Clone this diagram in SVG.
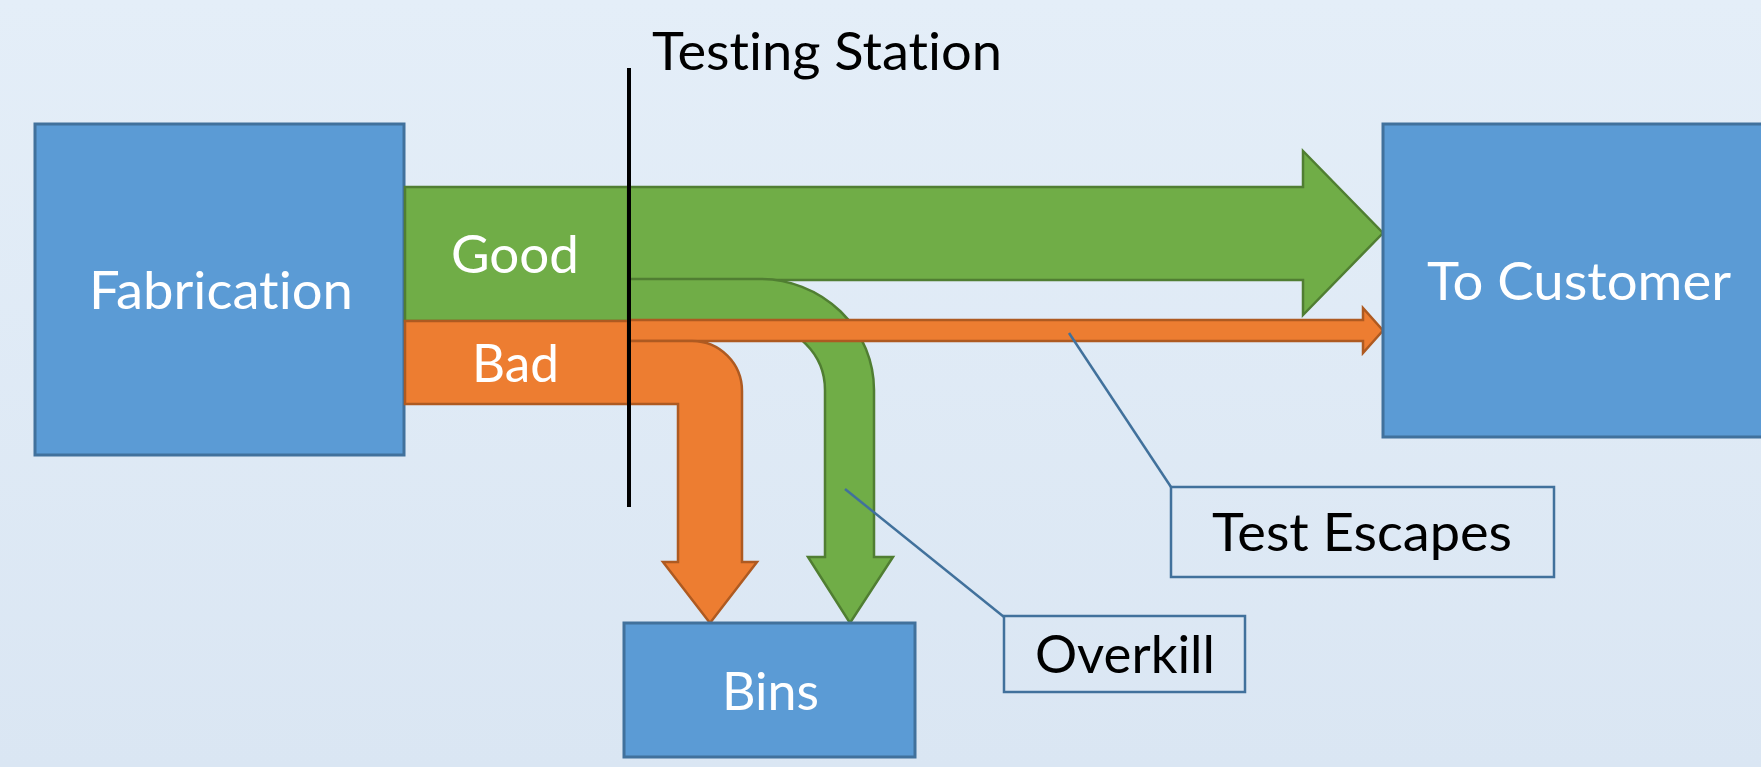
<svg xmlns="http://www.w3.org/2000/svg" width="1761" height="767" viewBox="0 0 1761 767">
  <defs>
    <linearGradient id="bg" x1="0" y1="0" x2="0" y2="1">
      <stop offset="0" stop-color="#E4EEF8"/>
      <stop offset="1" stop-color="#DAE6F3"/>
    </linearGradient>
    <style>
      .box { fill: #5B9BD5; stroke: #41719C; stroke-width: 3; }
      .green { fill: #70AD47; stroke: #507E32; stroke-width: 2.5; stroke-linejoin: miter; }
      .orange { fill: #ED7D31; stroke: #AE5A21; stroke-width: 2.5; stroke-linejoin: miter; }
      .callout { fill: none; stroke: #41719C; stroke-width: 2.5; }
      .leader { stroke: #41719C; stroke-width: 2.5; fill: none; }
      .lbl { font-family: Lato, "Open Sans", "Liberation Sans", sans-serif; font-size: 53px;
             font-variant-ligatures: none; font-feature-settings: "liga" 0, "clig" 0; }
      .white { fill: #FFFFFF; }
      .dark { fill: #000000; }
    </style>
  </defs>

  <rect x="0" y="0" width="1761" height="767" fill="url(#bg)"/>

  <!-- flows -->
  <g id="connectors">
    <!-- good parts shipped -->
    <path id="good-ship" class="green" d="M 628 187 H 1303 V 151 L 1383 233 L 1303 315 V 280 H 628 Z"/>
    <!-- good parts rejected (overkill) -->
    <path id="good-reject" class="green" d="M 628 279 H 760 A 114 111 0 0 1 874 390 V 557 H 893 L 850 623 L 808 557 H 825 V 390 A 65 65 0 0 0 760 325 H 628 Z"/>
    <!-- bad parts shipped (test escapes) -->
    <path id="bad-ship" class="orange" d="M 628 320 H 1363 V 308 L 1383 330.5 L 1363 353 V 341 H 628 Z"/>
    <!-- bad parts rejected -->
    <path id="bad-reject" class="orange" d="M 628 341 H 692 A 50 50 0 0 1 742 391 V 562 H 757 L 710 623 L 663 562 H 678 V 404 H 628 Z"/>
    <!-- callout leaders -->
    <line class="leader" x1="845" y1="489" x2="1004" y2="617"/>
    <line class="leader" x1="1069" y1="333" x2="1171" y2="487"/>
  </g>

  <g id="fabrication">
    <rect class="box" x="35" y="124" width="369" height="331"/>
    <text class="lbl white" x="221" y="309" text-anchor="middle" textLength="264" lengthAdjust="spacingAndGlyphs">Fabrication</text>
  </g>

  <g id="good">
    <rect class="green" x="405" y="187" width="223" height="134"/>
    <text class="lbl white" x="515" y="273" text-anchor="middle" textLength="128" lengthAdjust="spacingAndGlyphs">Good</text>
  </g>

  <g id="bad">
    <rect class="orange" x="405" y="321" width="223" height="83"/>
    <text class="lbl white" x="515.5" y="382" text-anchor="middle" textLength="87" lengthAdjust="spacingAndGlyphs">Bad</text>
  </g>

  <g id="to-customer">
    <rect class="box" x="1383" y="124" width="420" height="313"/>
    <text class="lbl white" x="1579" y="300" text-anchor="middle" textLength="304" lengthAdjust="spacingAndGlyphs">To Customer</text>
  </g>

  <g id="bins">
    <rect class="box" x="624" y="623" width="291" height="134"/>
    <text class="lbl white" x="770.5" y="710" text-anchor="middle" textLength="97" lengthAdjust="spacingAndGlyphs">Bins</text>
  </g>

  <g id="testing-station">
    <line x1="629" y1="68" x2="629" y2="507" stroke="#000000" stroke-width="4"/>
    <text class="lbl dark" x="652" y="70" textLength="350" lengthAdjust="spacingAndGlyphs">Testing Station</text>
  </g>

  <g id="test-escapes">
    <rect class="callout" x="1171" y="487" width="383" height="90"/>
    <text class="lbl dark" x="1362" y="551" text-anchor="middle" textLength="300" lengthAdjust="spacingAndGlyphs">Test Escapes</text>
  </g>

  <g id="overkill">
    <rect class="callout" x="1004" y="616" width="241" height="76"/>
    <text class="lbl dark" x="1125" y="673" text-anchor="middle" textLength="180" lengthAdjust="spacingAndGlyphs">Overkill</text>
  </g>
</svg>
